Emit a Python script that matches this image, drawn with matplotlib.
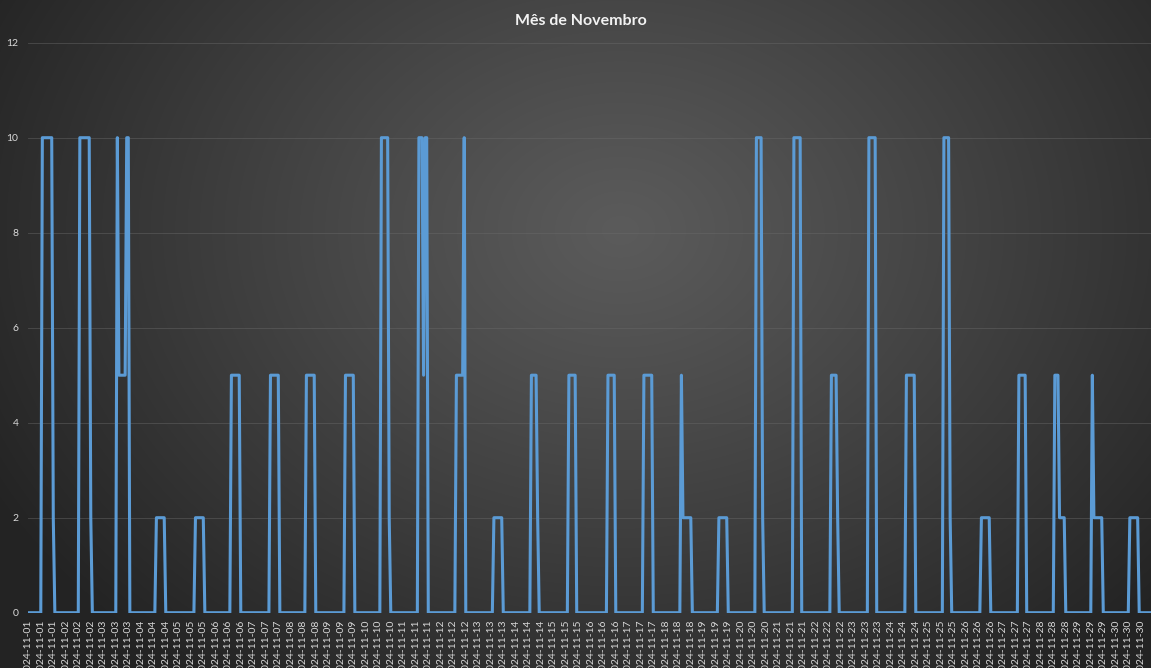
import numpy as np
import pandas as pd
import matplotlib
matplotlib.use('Agg')
import matplotlib.pyplot as plt

# hourly readings for November 2024, one row per day (00h .. 23h)
nov_values = [
    0, 0, 0, 0, 0, 0, 0, 0, 0, 10, 10, 10, 10, 10, 10, 10, 2, 0, 0, 0, 0, 0, 0, 0,   # 01
    0, 0, 0, 0, 0, 0, 0, 0, 0, 10, 10, 10, 10, 10, 10, 10, 2, 0, 0, 0, 0, 0, 0, 0,   # 02
    0, 0, 0, 0, 0, 0, 0, 0, 0, 10, 5, 5, 5, 5, 5, 10, 10, 0, 0, 0, 0, 0, 0, 0,       # 03
    0, 0, 0, 0, 0, 0, 0, 0, 0, 0, 2, 2, 2, 2, 2, 2, 0, 0, 0, 0, 0, 0, 0, 0,          # 04
    0, 0, 0, 0, 0, 0, 0, 0, 0, 0, 0, 2, 2, 2, 2, 2, 2, 0, 0, 0, 0, 0, 0, 0,          # 05
    0, 0, 0, 0, 0, 0, 0, 0, 0, 0, 5, 5, 5, 5, 5, 5, 0, 0, 0, 0, 0, 0, 0, 0,          # 06
    0, 0, 0, 0, 0, 0, 0, 0, 0, 0, 0, 5, 5, 5, 5, 5, 5, 0, 0, 0, 0, 0, 0, 0,          # 07
    0, 0, 0, 0, 0, 0, 0, 0, 0, 0, 5, 5, 5, 5, 5, 5, 0, 0, 0, 0, 0, 0, 0, 0,          # 08
    0, 0, 0, 0, 0, 0, 0, 0, 0, 0, 0, 5, 5, 5, 5, 5, 5, 0, 0, 0, 0, 0, 0, 0,          # 09
    0, 0, 0, 0, 0, 0, 0, 0, 0, 0, 10, 10, 10, 10, 10, 2, 0, 0, 0, 0, 0, 0, 0, 0,     # 10
    0, 0, 0, 0, 0, 0, 0, 0, 0, 0, 10, 10, 10, 5, 10, 10, 0, 0, 0, 0, 0, 0, 0, 0,     # 11
    0, 0, 0, 0, 0, 0, 0, 0, 0, 0, 5, 5, 5, 5, 5, 10, 0, 0, 0, 0, 0, 0, 0, 0,         # 12
    0, 0, 0, 0, 0, 0, 0, 0, 0, 0, 2, 2, 2, 2, 2, 2, 0, 0, 0, 0, 0, 0, 0, 0,          # 13
    0, 0, 0, 0, 0, 0, 0, 0, 0, 0, 5, 5, 5, 5, 2, 0, 0, 0, 0, 0, 0, 0, 0, 0,          # 14
    0, 0, 0, 0, 0, 0, 0, 0, 0, 0, 5, 5, 5, 5, 5, 0, 0, 0, 0, 0, 0, 0, 0, 0,          # 15
    0, 0, 0, 0, 0, 0, 0, 0, 0, 0, 0, 5, 5, 5, 5, 5, 0, 0, 0, 0, 0, 0, 0, 0,          # 16
    0, 0, 0, 0, 0, 0, 0, 0, 0, 0, 5, 5, 5, 5, 5, 5, 0, 0, 0, 0, 0, 0, 0, 0,          # 17
    0, 0, 0, 0, 0, 0, 0, 0, 0, 0, 5, 2, 2, 2, 2, 2, 2, 0, 0, 0, 0, 0, 0, 0,          # 18
    0, 0, 0, 0, 0, 0, 0, 0, 0, 0, 2, 2, 2, 2, 2, 2, 0, 0, 0, 0, 0, 0, 0, 0,          # 19
    0, 0, 0, 0, 0, 0, 0, 0, 0, 0, 10, 10, 10, 10, 2, 0, 0, 0, 0, 0, 0, 0, 0, 0,      # 20
    0, 0, 0, 0, 0, 0, 0, 0, 0, 0, 10, 10, 10, 10, 10, 0, 0, 0, 0, 0, 0, 0, 0, 0,     # 21
    0, 0, 0, 0, 0, 0, 0, 0, 0, 0, 5, 5, 5, 5, 2, 0, 0, 0, 0, 0, 0, 0, 0, 0,          # 22
    0, 0, 0, 0, 0, 0, 0, 0, 0, 0, 10, 10, 10, 10, 10, 0, 0, 0, 0, 0, 0, 0, 0, 0,     # 23
    0, 0, 0, 0, 0, 0, 0, 0, 0, 0, 5, 5, 5, 5, 5, 5, 0, 0, 0, 0, 0, 0, 0, 0,          # 24
    0, 0, 0, 0, 0, 0, 0, 0, 0, 0, 10, 10, 10, 10, 2, 0, 0, 0, 0, 0, 0, 0, 0, 0,      # 25
    0, 0, 0, 0, 0, 0, 0, 0, 0, 0, 2, 2, 2, 2, 2, 2, 0, 0, 0, 0, 0, 0, 0, 0,          # 26
    0, 0, 0, 0, 0, 0, 0, 0, 0, 0, 5, 5, 5, 5, 5, 0, 0, 0, 0, 0, 0, 0, 0, 0,          # 27
    0, 0, 0, 0, 0, 0, 0, 0, 0, 5, 5, 5, 2, 2, 2, 2, 0, 0, 0, 0, 0, 0, 0, 0,          # 28
    0, 0, 0, 0, 0, 0, 0, 0, 0, 5, 2, 2, 2, 2, 2, 2, 0, 0, 0, 0, 0, 0, 0, 0,          # 29
    0, 0, 0, 0, 0, 0, 0, 0, 0, 2, 2, 2, 2, 2, 2, 0, 0, 0, 0, 0, 0, 0, 0, 0,          # 30
]
timestamps = pd.date_range('2024-11-01 00:00', periods=len(nov_values), freq='h')
label_every = 8
y_ticks = [0, 2, 4, 6, 8, 10, 12]
title = 'Mês de Novembro'

W, H = 1151, 668
fig = plt.figure(figsize=(W / 100, H / 100), dpi=100)

# radial grey background
bg = fig.add_axes([0, 0, 1, 1])
bg.axis('off')
yy, xx = np.mgrid[0:H, 0:W]
dist = np.sqrt(((xx - 620) / 720.0) ** 2 + ((yy - 230) / 560.0) ** 2)
dist = np.clip(dist, 0, 1) ** 1.1
inner = np.array([0x5b, 0x5b, 0x5b]) / 255.0
outer = np.array([0x23, 0x23, 0x23]) / 255.0
bg.imshow(inner + (outer - inner) * dist[..., None], aspect='auto',
          extent=(0, W, H, 0))
bg.set_xlim(0, W)
bg.set_ylim(H, 0)

ax = fig.add_axes([27.5 / W, (H - 612.7) / H, 1125 / W, 570 / H])
ax.patch.set_alpha(0)
x = np.arange(len(nov_values))
ax.plot(x, nov_values, color='#5B9BD5', lw=2.2,
        solid_joinstyle='round', solid_capstyle='round', zorder=3)

ax.set_xlim(-0.5, len(nov_values) - 0.5)
ax.set_ylim(0, 12)
ax.set_yticks(y_ticks)
ax.yaxis.grid(True, color='#6a6a6a', lw=0.7, alpha=0.45)
ax.set_axisbelow(True)
for s in ax.spines.values():
    s.set_visible(False)

# one date label every 8 hours, like the category axis skip
tick_pos = x[::label_every]
ax.set_xticks(tick_pos)
ax.set_xticklabels(timestamps[::label_every].strftime('%Y-%m-%d'),
                   rotation=90, fontsize=7.5, color='#d9d9d9', family='Lato')
for lab in ax.get_yticklabels():
    lab.set_family('Lato')
ax.tick_params(axis='y', length=0, pad=6.5, labelsize=7.5, labelcolor='#d9d9d9')
ax.tick_params(axis='x', length=0, pad=5)

fig.text(581 / W, 1 - 21 / H, title, ha='center', va='center',
         fontsize=11.5, fontweight='bold', color='#f2f2f2', family='Lato')

fig.savefig('out.png', dpi=100)
